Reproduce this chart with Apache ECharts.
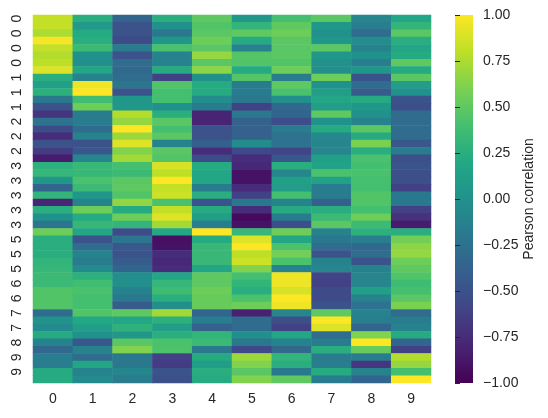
<!DOCTYPE html>
<html>
<head>
<meta charset="utf-8">
<script src="https://cdn.jsdelivr.net/npm/echarts@6/dist/echarts.min.js"></script>
<style>
  html, body { margin: 0; padding: 0; background: #fff; }
  #chart { width: 548px; height: 418px; }
</style>
</head>
<body>
<div id="chart"></div>
<script>
// class template columns
const colLabels = ['0', '1', '2', '3', '4', '5', '6', '7', '8', '9'];

// one label per sample row (sorted by digit)
const rowLabels = [
  '0','0','0','0','0','0','0','0',
  '1','1','1','1','1',
  '2','2','2','2','2','2','2',
  '3','3','3','3','3','3','3','3','3',
  '4',
  '5','5','5','5','5',
  '6','6','6','6','6',
  '7','7','7',
  '8','8','8',
  '9','9','9','9'
];

// Pearson correlation of every sample with each column
const col0 = [0.82,0.82,0.75,0.98,0.82,0.77,0.8,0.9, 0.25,0.12,0.27,-0.2,-0.5, -0.7,-0.25,-0.55,-0.75,-0.5,-0.65,-0.85, 0.27,0.32,0.05,-0.35,0.3,-0.8,0.25,0.0,-0.22, 0.55, 0.25,0.25,0.25,0.3,0.32, 0.35,0.35,0.45,0.45,0.45, -0.3,0.02,-0.05, 0.22,-0.12,-0.33, -0.15,-0.15,0.22,0.22];
const col1 = [0.25,0.08,0.22,0.25,0.35,0.0,-0.02,0.18, -0.12,0.95,1.0,0.38,0.55, -0.18,-0.18,-0.3,-0.12,-0.5,-0.45,-0.1, 0.33,0.33,0.42,0.35,0.05,-0.12,0.55,0.22,0.32, 0.18, -0.5,-0.3,-0.12,-0.18,-0.05, 0.27,0.38,0.42,0.4,0.4, 0.45,0.2,0.1, 0.0,-0.45,-0.12, -0.3,0.18,-0.12,-0.05];
const col2 = [-0.35,-0.5,-0.5,-0.55,-0.18,-0.5,-0.3,-0.33, -0.3,-0.22,-0.48,0.05,0.05, 0.77,0.68,1.0,0.7,0.9,0.62,0.72, 0.4,0.35,0.48,0.5,0.45,0.67,0.22,0.55,0.3, -0.55, -0.22,-0.45,-0.48,-0.42,-0.35, -0.02,-0.02,-0.12,-0.2,-0.42, 0.5,0.18,0.28, 0.05,0.48,0.62, -0.2,-0.2,-0.08,-0.17];
const col3 = [0.25,0.0,-0.2,0.05,0.42,-0.12,-0.12,0.22, -0.62,0.45,0.4,0.4,0.0, 0.25,0.48,0.4,0.48,-0.12,0.48,0.45, 0.88,0.8,1.0,0.82,0.85,0.42,0.82,0.9,0.72, 0.18, -0.92,-0.9,-0.75,-0.78,-0.75, 0.18,0.32,0.37,0.25,-0.02, 0.72,0.27,0.1, 0.25,0.42,0.43, -0.62,-0.65,-0.48,-0.52];
const col4 = [0.5,0.45,0.48,0.55,0.48,0.68,0.48,0.65, 0.0,0.22,0.22,-0.03,-0.18, -0.8,-0.8,-0.5,-0.5,-0.4,-0.75,-0.55, 0.22,0.18,0.18,-0.17,0.25,-0.48,0.22,0.1,-0.15, 1.0, 0.22,0.33,0.33,0.33,0.18, 0.5,0.5,0.55,0.53,0.53, -0.35,-0.15,-0.38, 0.3,0.35,-0.2, 0.22,0.1,0.25,0.22];
const col5 = [0.05,0.3,0.5,0.22,-0.12,0.46,0.45,0.22, 0.46,-0.17,-0.17,-0.2,-0.62, -0.2,-0.38,-0.38,-0.38,-0.03,-0.57,-0.75, -0.78,-0.9,-0.9,-0.75,-0.62,-0.2,-0.75,-0.95,-0.9, 0.33, 0.9,1.0,0.8,0.85,0.62, 0.4,0.3,0.25,0.42,0.55, -0.82,-0.3,-0.3, -0.02,-0.2,-0.57, 0.7,0.62,0.48,0.62];
const col6 = [0.4,0.5,0.55,0.48,0.48,0.48,0.45,0.55, -0.17,0.5,0.42,-0.02,-0.33, -0.35,-0.53,-0.17,-0.25,-0.25,-0.6,-0.45, 0.25,-0.1,0.12,0.1,0.4,-0.12,0.22,-0.18,-0.52, 0.55, 0.18,0.42,0.57,0.42,-0.12, 0.95,0.95,0.88,1.0,0.95, -0.1,-0.52,-0.62, 0.18,-0.12,-0.32, 0.3,0.25,-0.2,0.5];
const col7 = [0.48,0.05,0.0,0.05,0.48,0.05,0.0,-0.02, 0.55,0.0,0.1,0.18,0.1, 0.5,0.0,0.22,-0.07,-0.1,-0.1,0.12, 0.15,0.42,0.14,-0.17,-0.17,-0.4,0.25,0.35,0.48, -0.12, -0.2,-0.3,-0.48,-0.12,-0.1, -0.6,-0.62,-0.55,-0.55,-0.48, 0.5,1.0,0.9, -0.3,-0.17,0.25, -0.17,-0.15,0.22,-0.17];
const col8 = [-0.1,-0.15,-0.3,-0.03,-0.12,0.0,-0.15,0.05, -0.48,-0.3,-0.42,0.22,0.05, 0.0,-0.12,0.48,0.22,0.6,0.25,0.42, 0.4,0.42,0.4,0.4,0.45,0.45,0.4,0.55,0.35, 0.27, -0.15,-0.33,-0.3,-0.48,-0.12, -0.1,-0.1,0.12,-0.12,-0.25, -0.12,-0.15,-0.35, 0.62,1.0,0.53, -0.17,-0.68,-0.12,-0.35];
const col9 = [0.18,0.3,0.48,0.25,0.18,0.22,0.5,0.22, 0.48,0.1,0.0,-0.48,-0.52, -0.3,-0.3,-0.3,-0.3,-0.45,-0.17,-0.52, -0.48,-0.52,-0.52,-0.62,-0.2,-0.2,-0.62,-0.72,-0.85, 0.25, 0.57,0.65,0.68,0.55,0.5, 0.45,0.37,0.4,0.48,0.6, -0.3,-0.17,-0.12, 0.22,-0.35,-0.62, 0.77,0.68,0.4,1.0];

const columns = [col0, col1, col2, col3, col4, col5, col6, col7, col8, col9];

// colour bar ticks
const barMin = -1;
const barMax = 1;
const barStep = 0.25;

const viridis = ['#440154', '#482475', '#414487', '#355f8d', '#2a788e', '#21918c',
  '#22a884', '#44bf70', '#7ad151', '#bddf26', '#fde725'];

const cells = [];
columns.forEach((col, x) => {
  col.forEach((v, y) => cells.push([x, y, v]));
});

const ink = '#262626';
const font = "'Liberation Sans', Arial, sans-serif";

// colour bar box, same place as the second grid
const bar = { left: 455, top: 15, width: 18, height: 368 };

const chart = echarts.init(document.getElementById('chart'));

chart.setOption({
  animation: false,
  textStyle: { fontFamily: font },
  grid: [
    { left: 33, top: 15, width: 398, height: 368 },
    { left: bar.left, top: bar.top, width: bar.width, height: bar.height }
  ],
  xAxis: [
    {
      type: 'category',
      gridIndex: 0,
      data: colLabels,
      axisLine: { show: false },
      axisTick: { show: false },
      splitLine: { show: false },
      axisLabel: { fontSize: 14, color: ink, margin: 9, fontFamily: font }
    },
    { type: 'value', gridIndex: 1, show: false, min: 0, max: 1 }
  ],
  yAxis: [
    {
      type: 'category',
      gridIndex: 0,
      data: rowLabels,
      inverse: true,
      axisLine: { show: false },
      axisTick: { show: false },
      splitLine: { show: false },
      axisLabel: { interval: 1, rotate: 90, fontSize: 14, color: ink, margin: 9, fontFamily: font }
    },
    {
      type: 'value',
      gridIndex: 1,
      position: 'right',
      min: barMin,
      max: barMax,
      interval: barStep,
      axisLine: { show: false },
      axisTick: { show: true, length: 5, lineStyle: { color: ink, width: 1 } },
      splitLine: { show: false },
      axisLabel: {
        fontSize: 14,
        color: ink,
        margin: 10,
        fontFamily: font,
        formatter: (v) => v.toFixed(2).replace('-', '\u2212')
      },
      name: 'Pearson correlation',
      nameLocation: 'middle',
      nameRotate: 90,
      nameGap: 49,
      nameTextStyle: { fontSize: 14, color: ink, fontFamily: font }
    }
  ],
  visualMap: {
    type: 'continuous',
    show: false,
    seriesIndex: 0,
    min: barMin,
    max: barMax,
    inRange: { color: viridis }
  },
  graphic: [
    {
      type: 'rect',
      silent: true,
      z: 0,
      shape: { x: bar.left, y: bar.top, width: bar.width, height: bar.height },
      style: {
        fill: new echarts.graphic.LinearGradient(0, 1, 0, 0,
          viridis.map((c, i) => ({ offset: i / (viridis.length - 1), color: c })))
      }
    }
  ],
  series: [
    {
      type: 'heatmap',
      xAxisIndex: 0,
      yAxisIndex: 0,
      data: cells,
      progressive: 0,
      itemStyle: { borderWidth: 0 },
      emphasis: { disabled: true }
    },
    {
      type: 'line',
      xAxisIndex: 1,
      yAxisIndex: 1,
      data: [],
      silent: true
    }
  ]
});
</script>
</body>
</html>
